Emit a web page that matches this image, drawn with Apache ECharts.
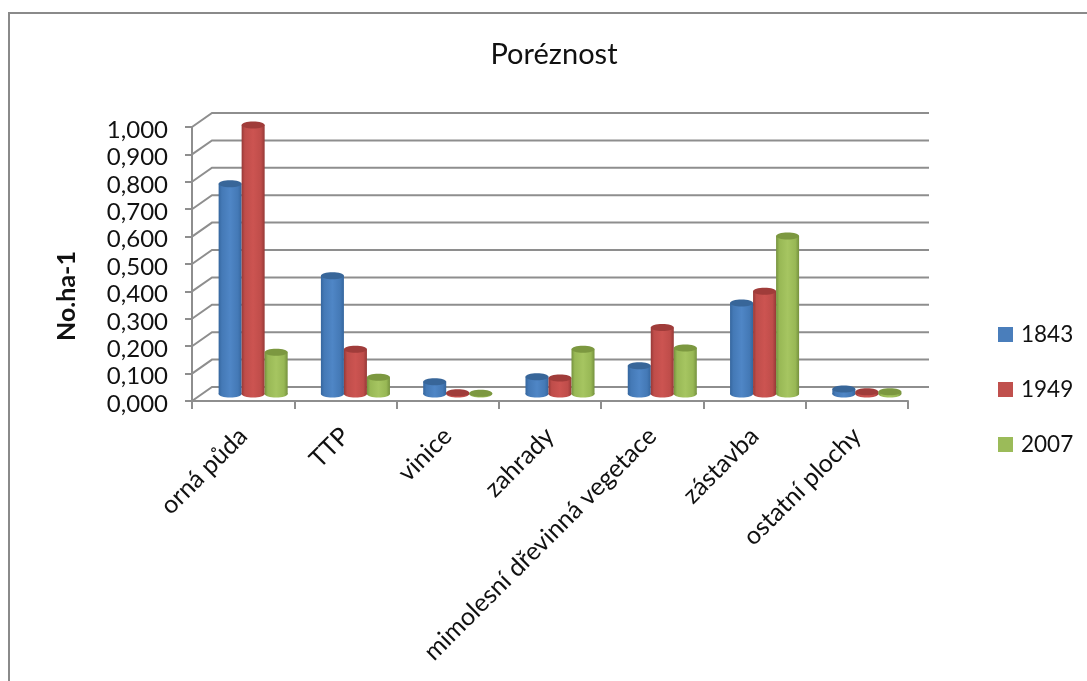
<!DOCTYPE html>
<html lang="cs">
<head>
<meta charset="utf-8">
<title>Poréznost</title>
<style>
  html, body { margin: 0; padding: 0; background: #fff; }
  #chart { width: 1087px; height: 681px; }
</style>
<script src="https://cdn.jsdelivr.net/npm/echarts@6/dist/echarts.min.js"></script>
</head>
<body>
<div id="chart"></div>
<script>
// Land-use categories and porosity per survey year
const categories = ['orná půda', 'TTP', 'vinice', 'zahrady', 'mimolesní dřevinná vegetace', 'zástavba', 'ostatní plochy'];
const years = ['1843', '1949', '2007'];
const values1843 = [0.767, 0.432, 0.045, 0.063, 0.103, 0.332, 0.018];
const values1949 = [0.982, 0.163, 0.005, 0.058, 0.243, 0.375, 0.008];
const values2007 = [0.152, 0.061, 0.003, 0.163, 0.168, 0.577, 0.008];
const yTicks = [0, 0.1, 0.2, 0.3, 0.4, 0.5, 0.6, 0.7, 0.8, 0.9, 1];

const FONT = 'Lato, "Noto Sans", sans-serif';
const TEXT = '#111';
const GRID_COLOR = '#8e8e8e';
// Pseudo-3D depth of the plot box
const DEPTH_X = 20;
const DEPTH_Y = -14;
const BAR_SHARE = 0.225;
const ELLIPSE_RY = 3.5;

const palettes = [
  { legend: '#4a7ebb', edge: '#35669e', side: '#4479b6', mid: '#4f86c6', top: '#386699' },
  { legend: '#c0504d', edge: '#963937', side: '#bf4d4a', mid: '#cc5451', top: '#a03c3a' },
  { legend: '#9bbb59', edge: '#75913e', side: '#98b855', mid: '#a6c561', top: '#7c9840' }
];

function bodyFill(p) {
  return {
    type: 'linear', x: 0, y: 0, x2: 1, y2: 0,
    colorStops: [
      { offset: 0, color: p.edge },
      { offset: 0.14, color: p.side },
      { offset: 0.5, color: p.mid },
      { offset: 0.84, color: p.side },
      { offset: 1, color: p.edge }
    ]
  };
}

// One cylinder: base ellipse, body, lid; sits halfway into the box depth
function renderCylinder(seriesIndex) {
  return function (params, api) {
    const base = api.coord([api.value(0), 0]);
    const head = api.coord([api.value(0), api.value(1)]);
    const band = api.size([1, 0])[0];
    const w = band * BAR_SHARE;
    const cx = base[0] + DEPTH_X / 2 + (seriesIndex - 1) * w;
    const yBase = base[1] + DEPTH_Y / 2;
    const yHead = head[1] + DEPTH_Y / 2;
    const p = palettes[seriesIndex];
    const fill = bodyFill(p);
    return {
      type: 'group',
      children: [
        { type: 'ellipse', shape: { cx: cx, cy: yBase, rx: w / 2, ry: ELLIPSE_RY }, style: { fill: fill } },
        { type: 'rect', shape: { x: cx - w / 2, y: yHead, width: w, height: yBase - yHead }, style: { fill: fill } },
        { type: 'ellipse', shape: { cx: cx, cy: yHead, rx: w / 2, ry: ELLIPSE_RY }, style: { fill: p.top } }
      ]
    };
  };
}

// Gridline on the back wall with its slanted run along the side wall
function renderWallLine(params, api) {
  const y = api.coord([0, api.value(1)])[1];
  const box = params.coordSys;
  return {
    type: 'polyline',
    shape: {
      points: [
        [box.x, y],
        [box.x + DEPTH_X, y + DEPTH_Y],
        [box.x + box.width + DEPTH_X + 1, y + DEPTH_Y]
      ]
    },
    style: { fill: 'none', stroke: GRID_COLOR, lineWidth: 2 }
  };
}

function cylinderSeries(index, values) {
  return {
    name: years[index],
    type: 'custom',
    z: 3 + index,
    itemStyle: { color: palettes[index].legend },
    renderItem: renderCylinder(index),
    encode: { x: 0, y: 1 },
    data: values.map(function (v, i) { return [i, v]; })
  };
}

const chart = echarts.init(document.getElementById('chart'), null, { renderer: 'canvas' });
chart.setOption({
  animation: false,
  backgroundColor: '#fff',
  textStyle: { fontFamily: FONT, color: TEXT },
  title: {
    text: 'Poréznost',
    left: 549,
    top: 35,
    textAlign: 'center',
    textStyle: { fontFamily: FONT, fontSize: 29, fontWeight: 'normal', color: TEXT }
  },
  grid: { left: 192, top: 127, width: 716, height: 274 },
  legend: {
    data: years,
    orient: 'vertical',
    left: 998,
    top: 323,
    padding: 0,
    icon: 'rect',
    itemWidth: 15,
    itemHeight: 15,
    itemGap: 32,
    textStyle: { fontFamily: FONT, fontSize: 22.5, color: TEXT, padding: [0, 0, 0, 3] }
  },
  xAxis: {
    type: 'category',
    data: categories,
    boundaryGap: true,
    axisLine: { lineStyle: { color: GRID_COLOR, width: 2 } },
    axisTick: { show: true, length: 8, lineStyle: { color: GRID_COLOR, width: 2 } },
    splitLine: { show: false },
    axisLabel: {
      rotate: 45,
      interval: 0,
      margin: 31,
      fontFamily: FONT,
      fontSize: 25,
      color: TEXT
    }
  },
  yAxis: {
    type: 'value',
    min: 0,
    max: 1,
    interval: 0.1,
    axisLine: { show: true, lineStyle: { color: GRID_COLOR, width: 2 } },
    axisTick: { show: true, length: 7, lineStyle: { color: GRID_COLOR, width: 2 } },
    splitLine: { show: false },
    axisLabel: {
      margin: 24,
      verticalAlign: 'top',
      lineHeight: 6,
      fontFamily: FONT,
      fontSize: 24,
      color: TEXT,
      formatter: function (v) { return v.toFixed(3).replace('.', ','); }
    }
  },
  graphic: [
    // Outer chart frame, open to the right and below
    { type: 'polyline', silent: true, shape: { points: [[9, 681], [9, 13], [1087, 13]] }, style: { fill: 'none', stroke: '#8a8a8a', lineWidth: 2 } },
    { type: 'text', silent: true, x: 67, y: 296, rotation: Math.PI / 2,
      style: { text: 'No.ha-1', fontFamily: FONT, fontSize: 25, fontWeight: 'bold', fill: TEXT, align: 'center', verticalAlign: 'middle' } }
  ],
  series: [
    {
      name: 'mřížka',
      type: 'custom',
      z: 1,
      silent: true,
      renderItem: renderWallLine,
      encode: { x: 0, y: 1 },
      data: yTicks.map(function (v) { return [0, v]; })
    },
    cylinderSeries(0, values1843),
    cylinderSeries(1, values1949),
    cylinderSeries(2, values2007)
  ]
});
</script>
</body>
</html>
